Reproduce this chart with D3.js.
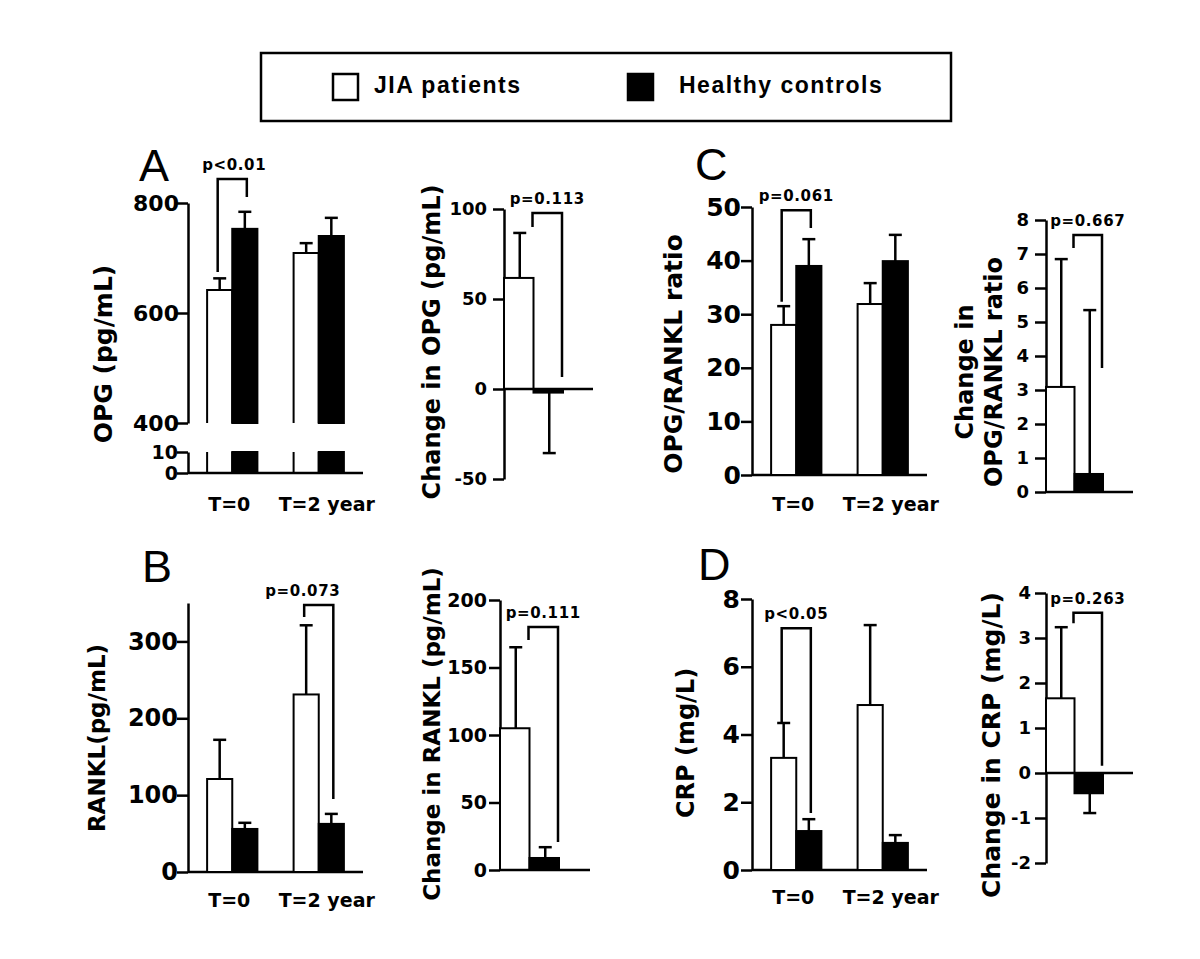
<!DOCTYPE html>
<html>
<head>
<meta charset="utf-8">
<script src="https://cdn.jsdelivr.net/npm/d3@7/dist/d3.min.js"></script>
<style>
  html, body { margin: 0; padding: 0; background: #fff; }
</style>
</head>
<body>
<div id="chart"></div>
<script>
// ---------------- DATA ----------------
const groups = ["T=0", "T=2 year"];
const seriesNames = ["JIA patients", "Healthy controls"];

// Panel A: OPG (pg/mL)
const opgJIA = [642, 709];
const opgJIASem = [21, 18];
const opgHC = [753, 740];
const opgHCSem = [31, 33];
const opgTicksUpper = [400, 600, 800];
const opgTicksLower = [0, 10];
// Change in OPG
const dOpg = [61.7, -2];
const dOpgSem = [25, 33.6];
const dOpgTicks = [-50, 0, 50, 100];

// Panel B: RANKL (pg/mL)
const rankJIA = [121, 231];
const rankJIASem = [51, 90];
const rankHC = [56, 62.6];
const rankHCSem = [8, 13];
const rankTicks = [0, 100, 200, 300];
const dRank = [105, 8.9];
const dRankSem = [60, 8];
const dRankTicks = [0, 50, 100, 150, 200];

// Panel C: OPG/RANKL ratio
const ratioJIA = [28.0, 31.9];
const ratioJIASem = [3.5, 3.9];
const ratioHC = [39.0, 39.9];
const ratioHCSem = [5.0, 4.9];
const ratioTicks = [0, 10, 20, 30, 40, 50];
const dRatio = [3.09, 0.53];
const dRatioSem = [3.76, 4.82];
const dRatioTicks = [0, 1, 2, 3, 4, 5, 6, 7, 8];

// Panel D: CRP (mg/L)
const crpJIA = [3.31, 4.87];
const crpJIASem = [1.03, 2.36];
const crpHC = [1.15, 0.8];
const crpHCSem = [0.35, 0.23];
const crpTicks = [0, 2, 4, 6, 8];
const dCrp = [1.66, -0.45];
const dCrpSem = [1.58, 0.44];
const dCrpTicks = [-2, -1, 0, 1, 2, 3, 4];

// p-value annotations: [bracket top, left leg end, right leg end] in data units
const pA = {label: "p<0.01", group: 0, ys: [843.6, 674.5, 811]};
const pB = {label: "p=0.073", group: 1, ys: [347.4, 331.8, 95]};
const pC = {label: "p=0.061", group: 0, ys: [49.4, 32.3, 46.1]};
const pD = {label: "p<0.05", group: 0, ys: [7.14, 4.37, 1.68]};
const pdA = {label: "p=0.113", ys: [97.8, 90, 6.7]};
const pdB = {label: "p=0.111", ys: [180, 170.4, 20.7]};
const pdC = {label: "p=0.667", ys: [7.56, 7.18, 3.65]};
const pdD = {label: "p=0.263", ys: [3.56, 3.33, 0.16]};

// ---------------- DRAW ----------------
const W = 1200, H = 959;
const svg = d3.select("#chart").append("svg").attr("width", W).attr("height", H);
svg.append("rect").attr("width", W).attr("height", H).attr("fill", "#fff");

const BOLD = "'DejaVu Sans', sans-serif";
const LW = 2.5;
const fmt = d => String(d);

function styleAxis(g, fontSize) {
  g.selectAll("path.domain, line").attr("stroke", "#000").attr("stroke-width", LW);
  g.selectAll("text").attr("font-family", BOLD).attr("font-weight", "bold")
    .attr("font-size", fontSize).attr("fill", "#000");
}

function yAxis(x0, scale, ticks, fontSize, pad) {
  const g = svg.append("g").attr("transform", `translate(${x0},0)`);
  g.call(d3.axisLeft(scale).tickValues(ticks).tickSize(11).tickSizeOuter(0)
    .tickPadding(pad).tickFormat(fmt));
  styleAxis(g, fontSize);
  return g;
}

function hline(x1, x2, y) {
  svg.append("line").attr("x1", x1).attr("x2", x2).attr("y1", y).attr("y2", y)
    .attr("stroke", "#000").attr("stroke-width", LW);
}

function errorBar(cx, y1, y2) {
  svg.append("line").attr("x1", cx).attr("x2", cx).attr("y1", y1).attr("y2", y2)
    .attr("stroke", "#000").attr("stroke-width", LW);
  svg.append("line").attr("x1", cx - 6.5).attr("x2", cx + 6.5).attr("y1", y2).attr("y2", y2)
    .attr("stroke", "#000").attr("stroke-width", LW);
}

function bracket(xl, xr, yTop, yl, yr, label, dx) {
  svg.append("path").attr("d", `M${xl},${yl}V${yTop}H${xr}V${yr}`)
    .attr("fill", "none").attr("stroke", "#000").attr("stroke-width", LW);
  svg.append("text").attr("x", (xl + xr) / 2 + (dx || 0)).attr("y", yTop - 9)
    .attr("text-anchor", "middle").attr("font-family", BOLD).attr("font-weight", "bold")
    .attr("font-size", 15).attr("letter-spacing", 0.6).text(label);
}

function panelLetter(txt, x, y) {
  svg.append("text").attr("x", x).attr("y", y).attr("font-family", "'Liberation Sans', Arial, sans-serif")
    .attr("font-size", 45).text(txt);
}

function yTitle(lines, xs, cy, size) {
  lines.forEach((t, i) => {
    svg.append("text").attr("transform", `translate(${xs[i]},${cy}) rotate(-90)`)
      .attr("text-anchor", "middle").attr("font-family", BOLD).attr("font-weight", "bold")
      .attr("font-size", size).text(t);
  });
}

function xLabels(xb, baseY, offsets) {
  groups.forEach((gname, i) => {
    svg.append("text").attr("x", xb(gname) + xb.bandwidth() / 2 + offsets[i]).attr("y", baseY)
      .attr("text-anchor", "middle").attr("font-family", BOLD).attr("font-weight", "bold")
      .attr("font-size", 19).text(gname);
  });
}

function groupBand(x0) {
  const xb = d3.scaleBand().domain(groups).range([x0, x0 + 175]).paddingInner(0.4186).paddingOuter(0.221);
  const xs = d3.scaleBand().domain(seriesNames).range([0, xb.bandwidth()]);
  return [xb, xs];
}

// Standard grouped panel
function groupPanel(p) {
  const [xb, xs] = groupBand(p.x0);
  const y = d3.scaleLinear().domain(p.domain).range(p.range);
  yAxis(p.x0, y, p.ticks, p.tickFont, p.tickPad);
  hline(p.x0, p.x0 + 175, y(0));
  const means = [p.jia, p.hc], sems = [p.jiaSem, p.hcSem];
  seriesNames.forEach((s, si) => {
    groups.forEach((gname, gi) => {
      const x = xb(gname) + xs(s), w = xs.bandwidth();
      svg.append("rect").attr("x", x).attr("y", y(means[si][gi])).attr("width", w)
        .attr("height", y(0) - y(means[si][gi]))
        .attr("fill", si === 0 ? "#fff" : "#000").attr("stroke", "#000").attr("stroke-width", 2);
      errorBar(x + w / 2, y(means[si][gi]), y(means[si][gi] + sems[si][gi]));
    });
  });
  const gname = groups[p.ann.group];
  const cl = xb(gname) + xs(seriesNames[0]) + xs.bandwidth() / 2;
  const cr = xb(gname) + xs(seriesNames[1]) + xs.bandwidth() / 2;
  bracket(cl - 2, cr + 2, y(p.ann.ys[0]), y(p.ann.ys[1]), y(p.ann.ys[2]), p.ann.label, p.annDx);
  xLabels(xb, p.xLabelY, [-3, 8]);
  panelLetter(p.letter, p.letterX, p.letterY);
  yTitle([p.title], [p.titleX], p.titleY, p.titleSize);
}

// Change panel
function changePanel(p) {
  const xs = d3.scaleBand().domain(seriesNames).range([p.x0, p.x0 + p.span]);
  const y = d3.scaleLinear().domain(p.domain).range(p.range);
  yAxis(p.x0, y, p.ticks, p.tickFont, p.tickPad);
  seriesNames.forEach((s, si) => {
    const v = p.vals[si], e = p.sems[si];
    const x = xs(s), w = xs.bandwidth();
    svg.append("rect").attr("x", x).attr("y", Math.min(y(v), y(0))).attr("width", w)
      .attr("height", Math.abs(y(0) - y(v)))
      .attr("fill", si === 0 ? "#fff" : "#000").attr("stroke", "#000").attr("stroke-width", 2);
    errorBar(x + w / 2 + 1, y(v), y(v < 0 ? v - e : v + e));
  });
  hline(p.x0, p.x0 + p.width, y(0));
  const xl = xs(seriesNames[0]) + xs.bandwidth() - 1;
  const xr = xs(seriesNames[1]) + xs.bandwidth() - 1;
  bracket(xl, xr, y(p.ann.ys[0]), y(p.ann.ys[1]), y(p.ann.ys[2]), p.ann.label, 0);
  yTitle(p.title, p.titleX, p.titleY, p.titleSize);
}

// ---- Panel A (broken axis) ----
(function () {
  const x0 = 188;
  const [xb, xs] = groupBand(x0);
  const yU = d3.scaleLinear().domain([400, 800]).range([423, 203]);
  const yL = d3.scaleLinear().domain([0, 10]).range([473, 452]);
  yAxis(x0, yU, opgTicksUpper, 22, -2);
  yAxis(x0, yL, opgTicksLower, 19, -1);
  hline(x0, x0 + 175, yL(0));
  const means = [opgJIA, opgHC], sems = [opgJIASem, opgHCSem];
  seriesNames.forEach((s, si) => {
    groups.forEach((gname, gi) => {
      const x = xb(gname) + xs(s), w = xs.bandwidth();
      const m = means[si][gi];
      if (si === 0) {
        svg.append("path").attr("d", `M${x},${yU(400)}V${yU(m)}H${x + w}V${yU(400)}`)
          .attr("fill", "#fff").attr("stroke", "#000").attr("stroke-width", 2);
        svg.append("path").attr("d", `M${x},${yL(10)}V${yL(0)}M${x + w},${yL(10)}V${yL(0)}`)
          .attr("fill", "none").attr("stroke", "#000").attr("stroke-width", 2);
      } else {
        svg.append("rect").attr("x", x).attr("y", yU(m)).attr("width", w).attr("height", yU(400) - yU(m))
          .attr("fill", "#000").attr("stroke", "#000").attr("stroke-width", 2);
        svg.append("rect").attr("x", x).attr("y", yL(10)).attr("width", w).attr("height", yL(0) - yL(10))
          .attr("fill", "#000").attr("stroke", "#000").attr("stroke-width", 2);
      }
      errorBar(x + w / 2, yU(m), yU(m + sems[si][gi]));
    });
  });
  const cl = xb(groups[0]) + xs(seriesNames[0]) + xs.bandwidth() / 2;
  const cr = xb(groups[0]) + xs(seriesNames[1]) + xs.bandwidth() / 2;
  bracket(cl - 2, cr + 2, yU(pA.ys[0]), yU(pA.ys[1]), yU(pA.ys[2]), pA.label, 2);
  xLabels(xb, 511, [-3, 8]);
  panelLetter("A", 139, 181);
  yTitle(["OPG (pg/mL)"], [112], 354, 25);
})();

groupPanel({x0: 188, domain: [0, 350], range: [872, 603], ticks: rankTicks, tickFont: 24, tickPad: -1,
  jia: rankJIA, jiaSem: rankJIASem, hc: rankHC, hcSem: rankHCSem, ann: pB, annDx: -16,
  xLabelY: 907, letter: "B", letterX: 142, letterY: 582, title: "RANKL(pg/mL)", titleX: 105, titleY: 738, titleSize: 23});

groupPanel({x0: 752, domain: [0, 50], range: [475, 207], ticks: ratioTicks, tickFont: 25, tickPad: 0,
  jia: ratioJIA, jiaSem: ratioJIASem, hc: ratioHC, hcSem: ratioHCSem, ann: pC, annDx: 0,
  xLabelY: 511, letter: "C", letterX: 695, letterY: 180, title: "OPG/RANKL ratio", titleX: 682, titleY: 354, titleSize: 25});

groupPanel({x0: 752, domain: [0, 8], range: [870, 599], ticks: crpTicks, tickFont: 25, tickPad: 1,
  jia: crpJIA, jiaSem: crpJIASem, hc: crpHC, hcSem: crpHCSem, ann: pD, annDx: 0,
  xLabelY: 904, letter: "D", letterX: 698, letterY: 580, title: "CRP (mg/L)", titleX: 694, titleY: 743, titleSize: 24});

changePanel({x0: 504, span: 59, width: 89, domain: [-50, 100], range: [479, 209], ticks: dOpgTicks,
  tickFont: 18, tickPad: 6, vals: dOpg, sems: dOpgSem, ann: pdA,
  title: ["Change in OPG (pg/mL)"], titleX: [440], titleY: 342, titleSize: 24});

changePanel({x0: 500, span: 59, width: 90, domain: [0, 200], range: [870, 600], ticks: dRankTicks,
  tickFont: 19, tickPad: 2, vals: dRank, sems: dRankSem, ann: pdB,
  title: ["Change in RANKL (pg/mL)"], titleX: [440], titleY: 734, titleSize: 23});

changePanel({x0: 1046, span: 57, width: 87, domain: [0, 8], range: [492, 220], ticks: dRatioTicks,
  tickFont: 18, tickPad: 6, vals: dRatio, sems: dRatioSem, ann: pdC,
  title: ["Change in", "OPG/RANKL ratio"], titleX: [973, 1002], titleY: 372, titleSize: 24});

changePanel({x0: 1046, span: 57, width: 87, domain: [-2, 4], range: [863, 593], ticks: dCrpTicks,
  tickFont: 18, tickPad: 4, vals: dCrp, sems: dCrpSem, ann: pdD,
  title: ["Change in CRP (mg/L)"], titleX: [1000], titleY: 745, titleSize: 25});

// ---- Legend ----
const leg = svg.append("g");
leg.append("rect").attr("x", 261).attr("y", 53).attr("width", 690).attr("height", 68)
  .attr("fill", "none").attr("stroke", "#000").attr("stroke-width", 2.5);
const legX = [333, 628], legTX = [374, 679];
seriesNames.forEach((s, i) => {
  leg.append("rect").attr("x", legX[i]).attr("y", 74).attr("width", 25).attr("height", 26)
    .attr("fill", i === 0 ? "#fff" : "#000").attr("stroke", "#000").attr("stroke-width", 2.5);
  leg.append("text").attr("x", legTX[i]).attr("y", 93).attr("font-family", "'Liberation Sans', Arial, sans-serif")
    .attr("font-weight", "bold").attr("font-size", 23).attr("letter-spacing", 1.5).text(s);
});
</script>
</body>
</html>
